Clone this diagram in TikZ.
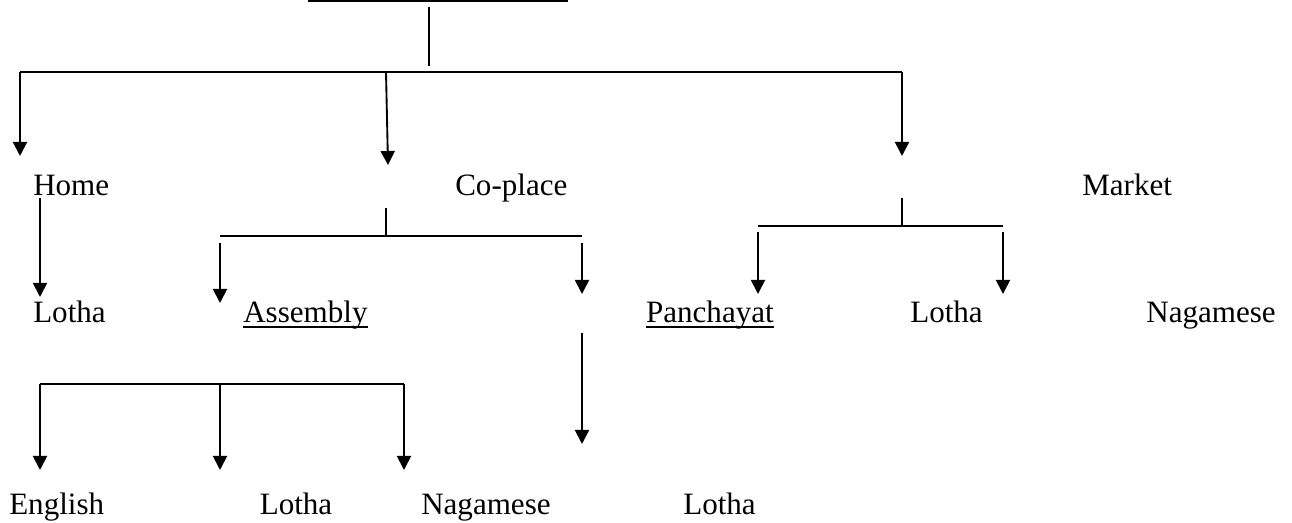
\documentclass[tikz,border=0pt]{standalone}
\usepackage{fontspec}
\setmainfont{Liberation Serif}
\usetikzlibrary{arrows.meta}
\begin{document}
\begin{tikzpicture}[x=0.75pt,y=-0.75pt,
  ln/.style={line width=1.4pt},
  arr/.style={ln,-{Triangle[length=10.5pt,width=10.5pt]}},
  lbl/.style={inner sep=0pt,font=\fontsize{23.3}{28}\selectfont},
  ul/.style={line width=1.1pt}]
\useasboundingbox (0,0) rectangle (1292,523);
% text
\node[lbl,anchor=base west] (home) at (33,196) {Home};
\node[lbl,anchor=base west] (coplace) at (455,196) {Co-place};
\node[lbl,anchor=base west] (market) at (1082,196) {Market};
\node[lbl,anchor=base west] (lotha1) at (33,323) {Lotha};
\node[lbl,anchor=base west] (asm) at (243,323) {Assembly};
\node[lbl,anchor=base east] (pan) at (774,323) {Panchayat};
\node[lbl,anchor=base west] (lotha2) at (910,323) {Lotha};
\node[lbl,anchor=base east] (naga1) at (1276,323) {Nagamese};
\node[lbl,anchor=base west] (eng) at (9,514) {English};
\node[lbl,anchor=base west] (lotha3) at (259.5,514) {Lotha};
\node[lbl,anchor=base west] (naga2) at (421,514) {Nagamese};
\node[lbl,anchor=base west] (lotha4) at (683,514) {Lotha};
\draw[ul] ([yshift=-3pt]asm.base west) -- ([yshift=-3pt]asm.base east);
\draw[ul] ([yshift=-3pt]pan.base west) -- ([yshift=-3pt]pan.base east);
% coordinates
\coordinate (tl) at (308,1);
\coordinate (tr) at (568,1);
\coordinate (rt) at (429,7);
\coordinate (rb) at (429,66);
\coordinate (ml) at (20,72);
\coordinate (mm) at (386,72);
\coordinate (mr) at (902,72);
\coordinate (tA) at (20,156);
\coordinate (tB) at (388,165);
\coordinate (tC) at (902,156);
\coordinate (hs) at (40,198);
\coordinate (ht) at (40,297);
\coordinate (cs) at (386,208);
\coordinate (cj) at (386,236);
\coordinate (cl) at (220,236);
\coordinate (cr) at (582,236);
\coordinate (cla) at (220,243);
\coordinate (clt) at (220,303);
\coordinate (cra) at (582,243);
\coordinate (crt) at (582,294);
\coordinate (c2a) at (582,333);
\coordinate (c2t) at (582,444);
\coordinate (ks) at (902,198);
\coordinate (kj) at (902,226);
\coordinate (kl) at (758,226);
\coordinate (kr) at (1003,226);
\coordinate (kla) at (758,232);
\coordinate (klt) at (758,294);
\coordinate (kra) at (1003,232);
\coordinate (krt) at (1003,294);
\coordinate (ll) at (40,384);
\coordinate (lm) at (220,384);
\coordinate (lr) at (404,384);
\coordinate (llt) at (40,470);
\coordinate (lmt) at (220,470);
\coordinate (lrt) at (404,470);
% lines
\draw[ln] (tl) -- (tr);
\draw[ln] (rt) -- (rb);
\draw[ln] (ml) -- (mr);
\draw[arr] (ml) -- (tA);
\draw[arr] (mm) -- (tB);
\draw[arr] (mr) -- (tC);
\draw[arr] (hs) -- (ht);
\draw[ln] (cs) -- (cj);
\draw[ln] (cl) -- (cr);
\draw[arr] (cla) -- (clt);
\draw[arr] (cra) -- (crt);
\draw[arr] (c2a) -- (c2t);
\draw[ln] (ks) -- (kj);
\draw[ln] (kl) -- (kr);
\draw[arr] (kla) -- (klt);
\draw[arr] (kra) -- (krt);
\draw[ln] (ll) -- (lr);
\draw[arr] (ll) -- (llt);
\draw[arr] (lm) -- (lmt);
\draw[arr] (lr) -- (lrt);
\end{tikzpicture}
\end{document}
